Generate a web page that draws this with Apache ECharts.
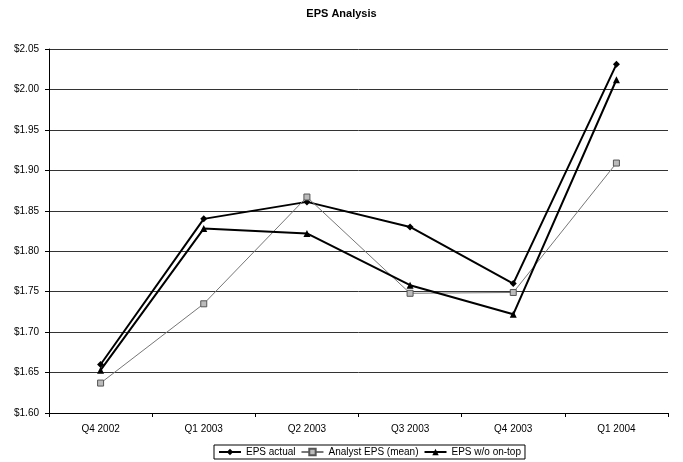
<!DOCTYPE html>
<html><head><meta charset="utf-8">
<script src="https://cdn.jsdelivr.net/npm/echarts@6/dist/echarts.min.js"></script>
<style>html,body{margin:0;padding:0;background:#fff}#c{width:683px;height:462px}</style>
</head><body><div id="c"></div>
<script>
const categories = ['Q4 2002','Q1 2003','Q2 2003','Q3 2003','Q4 2003','Q1 2004'];
const epsActual = [1.660, 1.840, 1.861, 1.830, 1.760, 2.031];
const analystEps = [1.637, 1.735, 1.867, 1.748, 1.749, 1.909];
const epsWoOnTop = [1.653, 1.828, 1.822, 1.758, 1.722, 2.012];
const seriesNames = ['EPS actual','Analyst EPS (mean)','EPS w/o on-top'];

const chart = echarts.init(document.getElementById('c'));
const font = 'Liberation Sans, Arial, sans-serif';
chart.setOption({
  animation:false,
  backgroundColor:'#fff',
  title:{text:'EPS Analysis',left:'center',top:3,textStyle:{fontFamily:font,fontSize:11,fontWeight:'bold',color:'#000'}},
  grid:{left:49,right:15,top:49,bottom:49},
  legend:{
    bottom:3,left:214,
    data:seriesNames,
    borderColor:'#000',borderWidth:1,padding:[2,4],itemGap:5,itemWidth:22,itemHeight:8,
    textStyle:{fontFamily:font,fontSize:10,color:'#000'}
  },
  xAxis:{
    type:'category',data:categories,boundaryGap:true,
    axisLine:{lineStyle:{color:'#000',width:1}},
    axisTick:{show:true,length:4,lineStyle:{color:'#000'}},
    axisLabel:{fontFamily:font,fontSize:10,color:'#000',margin:11}
  },
  yAxis:{
    type:'value',min:1.60,max:2.05,interval:0.05,
    axisLine:{show:true,lineStyle:{color:'#000'}},
    axisTick:{show:true,length:4,inside:false,lineStyle:{color:'#000'}},
    axisLabel:{fontFamily:font,fontSize:10,color:'#000',margin:10,formatter:v=>'$'+v.toFixed(2)},
    splitLine:{lineStyle:{color:'#333',width:1}}
  },
  series:[
    {name:seriesNames[0],type:'line',data:epsActual,symbol:'diamond',symbolSize:7,
     lineStyle:{color:'#000',width:2},itemStyle:{color:'#000'}},
    {name:seriesNames[1],type:'line',data:analystEps,symbol:'rect',symbolSize:6,
     lineStyle:{color:'#777',width:1},itemStyle:{color:'#bbb',borderColor:'#555',borderWidth:1}},
    {name:seriesNames[2],type:'line',data:epsWoOnTop,symbol:'triangle',symbolSize:7,
     lineStyle:{color:'#000',width:2},itemStyle:{color:'#000'}}
  ]
});
</script></body></html>
